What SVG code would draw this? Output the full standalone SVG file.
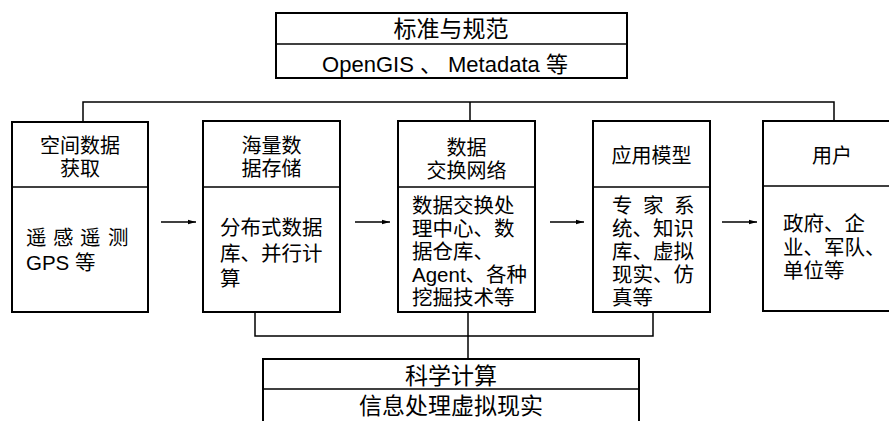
<svg xmlns="http://www.w3.org/2000/svg" width="889" height="421" viewBox="0 0 889 421">
<style>
.box{fill:#fff;stroke:#000;stroke-width:2}
.div{stroke:#000;stroke-width:1.6}
.con{fill:none;stroke:#000;stroke-width:1.5}
text{font-family:"Liberation Sans","Noto Sans CJK SC",sans-serif;fill:#000}
.h{font-size:20px;text-anchor:middle}
.b{font-size:20.5px}
.big{font-size:23px;text-anchor:middle}
</style>
<defs>
<marker id="ah" markerUnits="userSpaceOnUse" markerWidth="10" markerHeight="8" refX="8" refY="3" orient="auto">
<path d="M0,0.8 L8,3 L0,5.2 Z" fill="#000"/>
</marker>
</defs>
<rect width="889" height="421" fill="#fff"/>
<g id="connectors">
<path class="con" d="M83,122 V102 H834 V121"/>
<path class="con" d="M470,102 V121"/>
<path class="con" d="M255,312 V336 H653 V312"/>
<path class="con" d="M468,312 V359"/>
<line class="con" x1="161" y1="222" x2="196" y2="222" marker-end="url(#ah)"/>
<line class="con" x1="355" y1="222" x2="390" y2="222" marker-end="url(#ah)"/>
<line class="con" x1="550" y1="222" x2="584" y2="222" marker-end="url(#ah)"/>
<line class="con" x1="722" y1="222" x2="757" y2="222" marker-end="url(#ah)"/>
</g>
<g id="standards">
<rect class="box" x="276" y="13" width="351" height="65"/>
<line class="div" x1="276" y1="44" x2="627" y2="44"/>
<text class="big" x="451" y="37">标准与规范</text>
<text class="big" x="445" y="72" style="font-size:22px">OpenGIS 、 Metadata 等</text>
</g>
<g id="acquire">
<rect class="box" x="12" y="122" width="136" height="190"/>
<line class="div" x1="12" y1="187" x2="148" y2="187"/>
<text class="h" x="80" y="153">空间数据</text>
<text class="h" x="80" y="176">获取</text>
<text class="b" x="26 53 80 108" y="245">遥感遥测</text>
<text class="b" x="26" y="270">GPS 等</text>
</g>
<g id="storage">
<rect class="box" x="203" y="121" width="137" height="191"/>
<line class="div" x1="203" y1="187" x2="340" y2="187"/>
<text class="h" x="271.5" y="153">海量数</text>
<text class="h" x="271.5" y="176">据存储</text>
<text class="b" x="220" y="235">分布式数据</text>
<text class="b" x="220" y="261">库、并行计</text>
<text class="b" x="220" y="286">算</text>
</g>
<g id="exchange">
<rect class="box" x="398" y="121" width="137" height="191"/>
<line class="div" x1="398" y1="187" x2="535" y2="187"/>
<text class="h" x="466.5" y="155">数据</text>
<text class="h" x="466.5" y="178">交换网络</text>
<text class="b" x="412" y="213">数据交换处</text>
<text class="b" x="412" y="236">理中心、数</text>
<text class="b" x="412" y="259">据仓库、</text>
<text class="b" x="412" y="282">Agent、各种</text>
<text class="b" x="412" y="305">挖掘技术等</text>
</g>
<g id="model">
<rect class="box" x="593" y="121" width="117" height="191"/>
<line class="div" x1="593" y1="187" x2="710" y2="187"/>
<text class="h" x="651.5" y="163">应用模型</text>
<text class="b" x="612 643 674" y="213">专家系</text>
<text class="b" x="612" y="236">统、知识</text>
<text class="b" x="612" y="259">库、虚拟</text>
<text class="b" x="612" y="282">现实、仿</text>
<text class="b" x="612" y="305">真等</text>
</g>
<g id="user">
<rect class="box" x="763" y="121" width="140" height="190"/>
<line class="div" x1="763" y1="186" x2="903" y2="186"/>
<text class="h" x="832" y="163">用户</text>
<text class="b" x="783" y="231">政府、企</text>
<text class="b" x="783" y="255">业、军队、</text>
<text class="b" x="783" y="278">单位等</text>
</g>
<g id="compute">
<rect class="box" x="263" y="359" width="376" height="80"/>
<line class="div" x1="263" y1="389" x2="639" y2="389"/>
<text class="big" x="451" y="384">科学计算</text>
<text class="big" x="451" y="414">信息处理虚拟现实</text>
</g>
</svg>
